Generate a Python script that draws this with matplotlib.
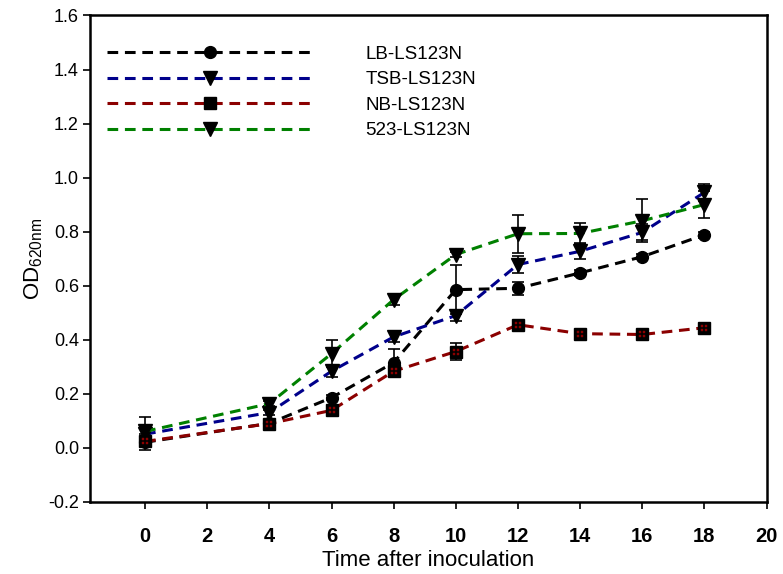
import matplotlib
matplotlib.use("Agg")
import matplotlib.pyplot as plt
import numpy as np
from matplotlib.path import Path

plt.rcParams['font.family'] = ['Liberation Sans', 'DejaVu Sans']

time_h = [0, 4, 6, 8, 10, 12, 14, 16, 18]

lb_od = [0.02, 0.09, 0.185, 0.315, 0.585, 0.59, 0.647, 0.707, 0.788]
lb_err = [0.03, 0.01, 0.01, 0.05, 0.09, 0.025, 0.01, 0.01, 0.01]

tsb_od = [0.05, 0.13, 0.283, 0.41, 0.489, 0.678, 0.727, 0.797, 0.945]
tsb_err = [0.02, 0.01, 0.02, 0.02, 0.02, 0.03, 0.03, 0.03, 0.03]

nb_od = [0.023, 0.089, 0.138, 0.283, 0.356, 0.455, 0.422, 0.419, 0.444]
nb_err = [0.01, 0.01, 0.01, 0.01, 0.03, 0.01, 0.01, 0.01, 0.01]

s523_od = [0.06, 0.163, 0.348, 0.548, 0.715, 0.792, 0.793, 0.84, 0.9]
s523_err = [0.055, 0.01, 0.05, 0.02, 0.01, 0.07, 0.04, 0.08, 0.05]

labels = ['LB-LS123N', 'TSB-LS123N', 'NB-LS123N', '523-LS123N']
colors = ['black', '#00008b', '#8b0000', '#008000']
markers = ['o', 'v', 's', 'v']


def dots_marker():
    # four little squares, like the dotted fill of the square symbol
    verts, codes = [], []
    for cx in (-0.3, 0.3):
        for cy in (-0.3, 0.3):
            h = 0.15
            verts += [(cx - h, cy - h), (cx + h, cy - h), (cx + h, cy + h),
                      (cx - h, cy + h), (cx - h, cy - h)]
            codes += [Path.MOVETO, Path.LINETO, Path.LINETO, Path.LINETO, Path.CLOSEPOLY]
    return Path(verts, codes)


fig = plt.figure(figsize=(7.83, 5.74), dpi=100)
ax = fig.add_axes([0.115, 0.126, 0.864, 0.847])

series = [(lb_od, lb_err), (tsb_od, tsb_err), (nb_od, nb_err), (s523_od, s523_err)]

for (od, err), lab, col, mk in zip(series, labels, colors, markers):
    ax.errorbar(time_h, od, yerr=err, fmt='none', ecolor='black',
                elinewidth=1.2, capsize=4.5, capthick=1.2, zorder=2)
    ax.plot(time_h, od, color=col, lw=2.2, dashes=(3.5, 2.2),
            marker=mk, markersize=9.5 if mk == 'v' else 8.5,
            markerfacecolor='black', markeredgecolor='black',
            label=lab, zorder=3)
    if mk == 's':
        ax.plot(time_h, od, linestyle='none', marker=dots_marker(),
                markersize=5, markerfacecolor=col, markeredgecolor=col,
                markeredgewidth=0.3, zorder=4)

ax.set_xlim(-1.77, 20)
ax.set_ylim(-0.2, 1.6)
ax.set_xticks(np.arange(0, 21, 2))
ax.set_yticks(np.arange(-0.2, 1.61, 0.2))
ax.set_yticklabels(['%.1f' % v for v in np.arange(-0.2, 1.61, 0.2)])

for lbl in ax.get_xticklabels():
    lbl.set_fontweight('bold')
ax.tick_params(axis='x', labelsize=14.5, length=5, width=1.2, direction='out', pad=13)
ax.tick_params(axis='y', labelsize=13, length=5, width=1.2, direction='out', pad=3)

for sp in ax.spines.values():
    sp.set_linewidth(1.8)

ax.set_xlabel('Time after inoculation', fontsize=16, labelpad=3)
ax.set_ylabel('OD$_{\\mathregular{620nm}}$', fontsize=16, labelpad=2)

leg = ax.legend(loc='upper left', bbox_to_anchor=(0.025, 0.938), frameon=False,
                fontsize=13.5, handlelength=11.0, handletextpad=2.77,
                labelspacing=0.45, numpoints=1,
                borderaxespad=0, borderpad=0)

fig.savefig('out.png', dpi=100)
